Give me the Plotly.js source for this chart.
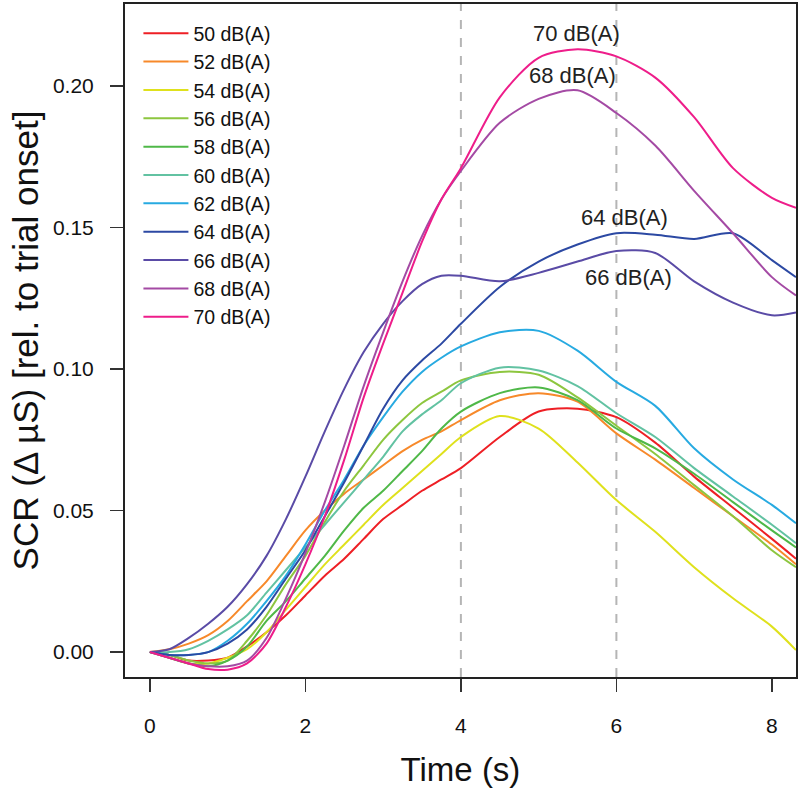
<!DOCTYPE html>
<html>
<head>
<meta charset="utf-8">
<script src="https://cdn.plot.ly/plotly-3.0.1.min.js"></script>
<style>html,body{margin:0;padding:0;background:#fff;}#chart{width:800px;height:793px;}</style>
</head>
<body>
<div id="chart"></div>
<script>
// Time axis (s)
var time = [0,0.25,0.5,0.75,1,1.25,1.5,1.75,2,2.25,2.5,2.75,3,3.25,3.5,3.75,4,4.5,5,5.5,6,6.5,7,7.5,8,8.31];

// SCR (Δ µS) per sound level
var db50 = [0,-0.001,-0.003,-0.003,-0.002,0.002,0.007,0.013,0.020,0.027,0.033,0.040,0.047,0.052,0.057,0.061,0.065,0.076,0.085,0.086,0.083,0.074,0.062,0.051,0.040,0.033];
var db52 = [0,0.001,0.003,0.006,0.011,0.018,0.025,0.034,0.043,0.050,0.056,0.061,0.066,0.071,0.075,0.078,0.082,0.089,0.0915,0.0885,0.0773,0.068,0.058,0.048,0.038,0.031];
var db54 = [0,-0.002,-0.004,-0.004,-0.002,0.001,0.007,0.015,0.023,0.031,0.038,0.045,0.052,0.058,0.064,0.070,0.076,0.0834,0.079,0.067,0.0537,0.0425,0.030,0.019,0.009,0.0007];
var db56 = [0,-0.001,-0.003,-0.004,-0.003,0.004,0.013,0.024,0.034,0.046,0.057,0.066,0.075,0.082,0.088,0.092,0.096,0.099,0.098,0.090,0.080,0.070,0.059,0.048,0.036,0.030];
var db58 = [0,-0.002,-0.004,-0.005,-0.003,0.002,0.011,0.018,0.026,0.034,0.043,0.051,0.057,0.064,0.071,0.079,0.085,0.0915,0.0935,0.089,0.079,0.072,0.063,0.053,0.043,0.037];
var db60 = [0,0.000,0.001,0.004,0.008,0.013,0.021,0.029,0.037,0.045,0.053,0.061,0.069,0.078,0.084,0.089,0.095,0.1005,0.0995,0.094,0.0844,0.076,0.065,0.055,0.045,0.0385];
var db62 = [0,-0.001,-0.001,0.000,0.004,0.010,0.018,0.027,0.038,0.050,0.061,0.073,0.083,0.092,0.099,0.104,0.108,0.113,0.1135,0.1065,0.0955,0.087,0.072,0.061,0.052,0.0455];
var db64 = [0,-0.001,-0.001,0.000,0.003,0.008,0.016,0.026,0.036,0.048,0.060,0.073,0.086,0.096,0.103,0.109,0.116,0.129,0.138,0.144,0.148,0.1475,0.146,0.148,0.1385,0.1325];
var db66 = [0,0.001,0.005,0.010,0.016,0.024,0.034,0.047,0.062,0.078,0.093,0.106,0.116,0.124,0.130,0.133,0.133,0.131,0.134,0.138,0.1417,0.141,0.131,0.1235,0.119,0.120];
var db68 = [0,-0.002,-0.004,-0.005,-0.005,-0.003,0.005,0.019,0.035,0.053,0.073,0.094,0.113,0.131,0.147,0.160,0.170,0.187,0.1955,0.1985,0.1905,0.179,0.163,0.148,0.1325,0.126];
var db70 = [0,-0.002,-0.004,-0.006,-0.0062,-0.004,0.003,0.016,0.031,0.048,0.068,0.090,0.109,0.127,0.145,0.160,0.171,0.196,0.210,0.213,0.2105,0.203,0.189,0.171,0.1605,0.157];

var seriesNames = ["50 dB(A)","52 dB(A)","54 dB(A)","56 dB(A)","58 dB(A)","60 dB(A)","62 dB(A)","64 dB(A)","66 dB(A)","68 dB(A)","70 dB(A)"];
var seriesValues = [db50,db52,db54,db56,db58,db60,db62,db64,db66,db68,db70];
var seriesColors = ["#ee1f25","#f7892a","#dfe11d","#8dc63f","#4fb848","#62c2a2","#27aae1","#2c49a3","#5a4ba6","#a44aa4","#ee1d8a"];

// Direct labels
var labelText = ["70 dB(A)","68 dB(A)","64 dB(A)","66 dB(A)"];
var labelX = [5.49, 5.43, 6.11, 6.16];
var labelY = [0.2187, 0.2039, 0.1537, 0.1325];

// Reference lines
var refLines = [4, 6];

var FONT = '"Liberation Sans", Arial, Helvetica, sans-serif';

var traces = seriesNames.map(function(n, i){
  return {
    x: time, y: seriesValues[i], name: n, type: 'scatter', mode: 'lines',
    line: {color: seriesColors[i], width: 2, shape: 'spline', smoothing: 0.8}
  };
});

var layout = {
  width: 800, height: 793,
  margin: {l: 125, r: 4, t: 4, b: 116},
  paper_bgcolor: '#ffffff', plot_bgcolor: '#ffffff',
  font: {family: FONT, color: '#111'},
  showlegend: true,
  legend: {
    x: 0.02, y: 0.985, xanchor: 'left', yanchor: 'top',
    bgcolor: 'rgba(0,0,0,0)', borderwidth: 0,
    font: {family: FONT, size: 19.5, color: '#111'},
    itemwidth: 45
  },
  xaxis: {
    range: [-0.32, 8.31], tickvals: [0,2,4,6,8], ticktext: ['0','2','4','6','8'],
    ticks: 'outside', ticklen: 13, tickwidth: 1.5, tickcolor: '#333',
    showline: true, mirror: true, linecolor: '#222', linewidth: 2,
    showgrid: false, zeroline: false,
    tickfont: {family: FONT, size: 21, color: '#111'},
    ticklabelstandoff: 16,
    title: {text: 'Time (s)', font: {family: FONT, size: 33, color: '#111'}, standoff: 22}
  },
  yaxis: {
    range: [-0.0088, 0.229], tickvals: [0,0.05,0.10,0.15,0.20], tickformat: '.2f',
    ticks: 'outside', ticklen: 13, tickwidth: 1.5, tickcolor: '#333',
    showline: true, mirror: true, linecolor: '#222', linewidth: 2,
    showgrid: false, zeroline: false,
    tickfont: {family: FONT, size: 21, color: '#111'},
    ticklabelstandoff: 12,
    title: {text: 'SCR (\u0394 \u00b5S) [rel. to trial onset]', font: {family: FONT, size: 35, color: '#111'}, standoff: 4}
  },
  shapes: refLines.map(function(v){
    return {type: 'line', xref: 'x', yref: 'paper', x0: v, x1: v, y0: 0, y1: 1,
            line: {color: '#b5b5b5', width: 2, dash: 'dash'}, layer: 'below'};
  }),
  annotations: labelText.map(function(t, i){
    return {text: t, x: labelX[i], y: labelY[i], xref: 'x', yref: 'y', showarrow: false,
            font: {family: FONT, size: 22, color: '#222'}};
  })
};

Plotly.newPlot('chart', traces, layout, {displayModeBar: false, staticPlot: true});
</script>
</body>
</html>
